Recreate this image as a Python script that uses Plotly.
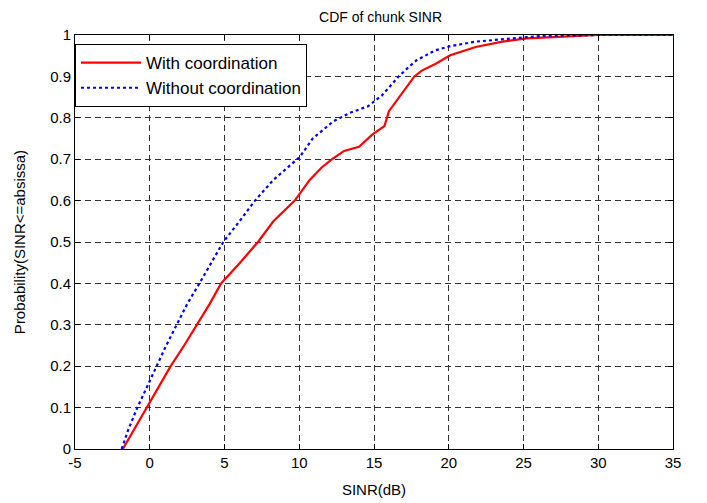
import plotly.graph_objects as go

# Data
with_x = [-1.8, -1.0, -0.2, 0.6, 1.4, 2.3, 3.14, 4.0, 4.77, 6.04, 7.24, 8.27, 9.7, 10.7, 11.5, 12.2, 13.0, 14.0, 14.9, 15.7, 16.0, 16.8, 17.7, 18.2, 19.1, 20.1, 21.8, 23.6, 25.2, 27.7, 30.0, 35.0]
with_y = [0.0, 0.05, 0.10, 0.15, 0.20, 0.25, 0.30, 0.35, 0.40, 0.45, 0.50, 0.55, 0.60, 0.65, 0.68, 0.70, 0.72, 0.73, 0.76, 0.78, 0.816, 0.857, 0.90, 0.914, 0.93, 0.951, 0.971, 0.984, 0.992, 0.996, 1.0, 1.0]

without_x = [-1.88, -1.4, -0.83, -0.2, 0.46, 1.1, 1.8, 2.5, 3.32, 4.1, 4.92, 6.0, 7.04, 8.27, 9.83, 10.05, 10.9, 11.2, 12.3, 13.4, 14.6, 15.5, 16.6, 17.3, 17.85, 19.1, 20.1, 21.8, 24.1, 26.3, 30.0, 35.0]
without_y = [0.0, 0.05, 0.10, 0.15, 0.20, 0.25, 0.30, 0.35, 0.40, 0.45, 0.50, 0.55, 0.60, 0.65, 0.70, 0.706, 0.75, 0.759, 0.792, 0.812, 0.828, 0.853, 0.898, 0.922, 0.939, 0.963, 0.973, 0.984, 0.992, 0.998, 1.0, 1.0]

x_ticks = [-5, 0, 5, 10, 15, 20, 25, 30, 35]
x_tick_text = ["-5", "0", "5", "10", "15", "20", "25", "30", "35"]
y_ticks = [0, 0.1, 0.2, 0.3, 0.4, 0.5, 0.6, 0.7, 0.8, 0.9, 1]
y_tick_text = ["0", "0.1", "0.2", "0.3", "0.4", "0.5", "0.6", "0.7", "0.8", "0.9", "1"]

fig = go.Figure()
fig.add_trace(go.Scatter(x=with_x, y=with_y, mode="lines", name="With coordination",
                         line=dict(color="#ff0000", width=2.2)))
fig.add_trace(go.Scatter(x=without_x, y=without_y, mode="lines", name="Without coordination",
                         line=dict(color="#0000ff", width=2.2, dash="dot")))

axis_common = dict(showline=True, linecolor="black", linewidth=1, mirror="ticks",
                   ticks="inside", ticklen=5, tickcolor="black",
                   showgrid=True, gridcolor="#333333", griddash="6px,4px", gridwidth=1,
                   zeroline=False, tickfont=dict(size=15, color="black"))

fig.update_layout(
    width=707, height=503,
    paper_bgcolor="white", plot_bgcolor="white",
    font=dict(family="Liberation Sans, Arial, sans-serif", color="black"),
    margin=dict(l=67, r=42, t=27, b=62),
    title=dict(text="CDF of chunk SINR", x=0.527, xanchor="center", y=1.0, yanchor="top",
               pad=dict(t=4), font=dict(size=14)),
    xaxis=dict(range=[-5, 35], tickvals=x_ticks, ticktext=x_tick_text,
               title=dict(text="SINR(dB)", font=dict(size=15), standoff=14), **axis_common),
    yaxis=dict(range=[0, 1], tickvals=y_ticks, ticktext=y_tick_text,
               title=dict(text="Probability(SINR<=absissa)", font=dict(size=15), standoff=20), **axis_common),
    legend=dict(x=0.0, y=0.978, xanchor="left", yanchor="top", bgcolor="white",
                bordercolor="black", borderwidth=1, font=dict(size=17),
                itemwidth=60, tracegroupgap=0),
    showlegend=True,
)

fig.write_html("out.html")
